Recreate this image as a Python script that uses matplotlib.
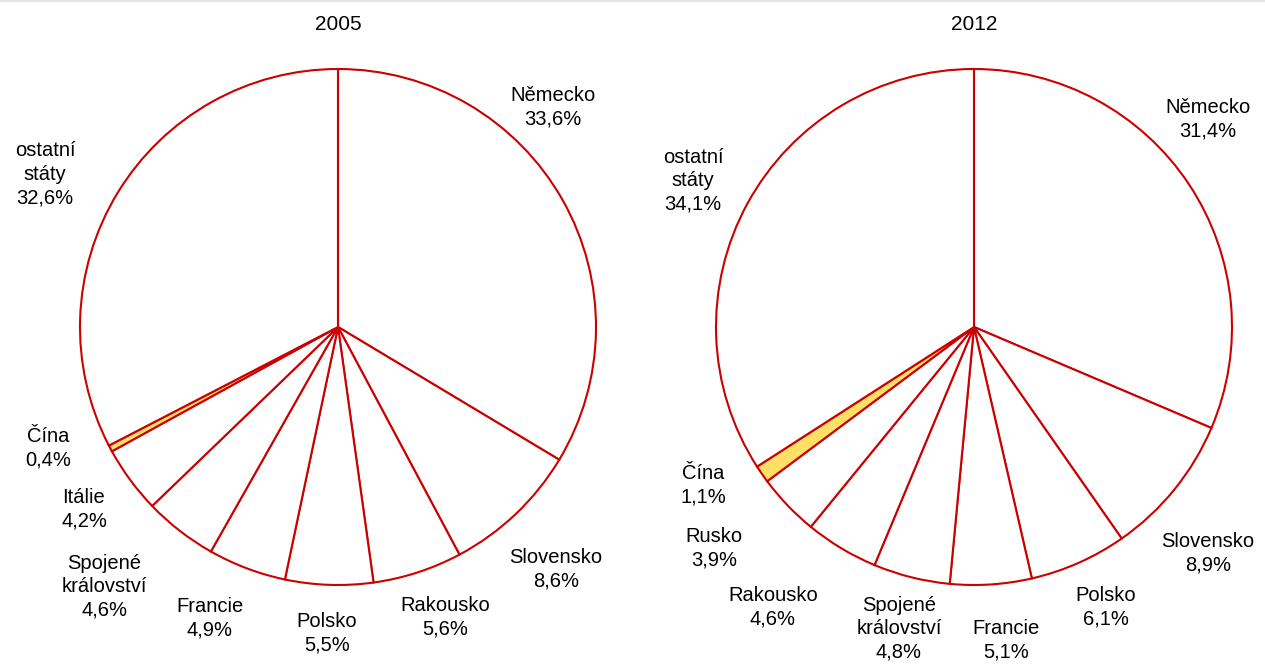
import matplotlib
matplotlib.use("Agg")
import matplotlib.pyplot as plt
from matplotlib.lines import Line2D

plt.rcParams['font.family'] = ['Liberation Sans', 'DejaVu Sans']

# ---- data ----
countries_2005 = ["Německo", "Slovensko", "Rakousko", "Polsko", "Francie",
                  "Spojené\nkrálovství", "Itálie", "Čína", "ostatní\nstáty"]
shares_2005 = [33.6, 8.6, 5.6, 5.5, 4.9, 4.6, 4.2, 0.4, 32.6]

countries_2012 = ["Německo", "Slovensko", "Polsko", "Francie", "Spojené\nkrálovství",
                  "Rakousko", "Rusko", "Čína", "ostatní\nstáty"]
shares_2012 = [31.4, 8.9, 6.1, 5.1, 4.8, 4.6, 3.9, 1.1, 34.1]

years = ["2005", "2012"]

# ---- layout (label centres in pixels of the reference) ----
W, H = 1265, 664
R = 258
centres = [(338, 327), (974, 327)]
label_px_2005 = [(553, 107), (556, 569), (445, 617), (327, 633), (210, 618),
                 (104, 587), (84, 509), (48, 448), (45, 174)]
label_px_2012 = [(1208, 119), (1208, 553), (1106, 607), (1006, 640), (899, 629),
                 (773, 607), (714, 548), (703, 485), (693, 181)]

EDGE = "#CC0000"
YELLOW = "#FFE066"

fig = plt.figure(figsize=(W / 100, H / 100), dpi=100)
fig.patch.set_facecolor("white")
fig.add_artist(Line2D([0, 1], [1 - 1 / H, 1 - 1 / H], transform=fig.transFigure,
                      color="#e3e3e3", lw=1.5))

for (cx, cy), labels, vals, lpx, yr in zip(
        centres, [countries_2005, countries_2012], [shares_2005, shares_2012],
        [label_px_2005, label_px_2012], years):
    ax = fig.add_axes([(cx - R) / W, (H - cy - R) / H, 2 * R / W, 2 * R / H])
    colors = [YELLOW if c == "Čína" else "white" for c in labels]
    ax.pie(vals, colors=colors, startangle=90, counterclock=False, radius=1,
           wedgeprops=dict(edgecolor=EDGE, linewidth=1.5))
    ax.set_xlim(-1, 1)
    ax.set_ylim(-1, 1)
    ax.set_aspect("auto")
    ax.axis("off")
    for name, v, (px, py) in zip(labels, vals, lpx):
        txt = f"{name}\n{v:.1f}%".replace(".", ",")
        ax.text((px - cx) / R, -(py - cy) / R, txt, ha="center", va="center",
                fontsize=14.5, linespacing=1.3, clip_on=False, color="black")
    fig.text(cx / W, 1 - 25 / H, yr, ha="center", va="center", fontsize=15)

fig.savefig("out.png", dpi=100, facecolor="white")
